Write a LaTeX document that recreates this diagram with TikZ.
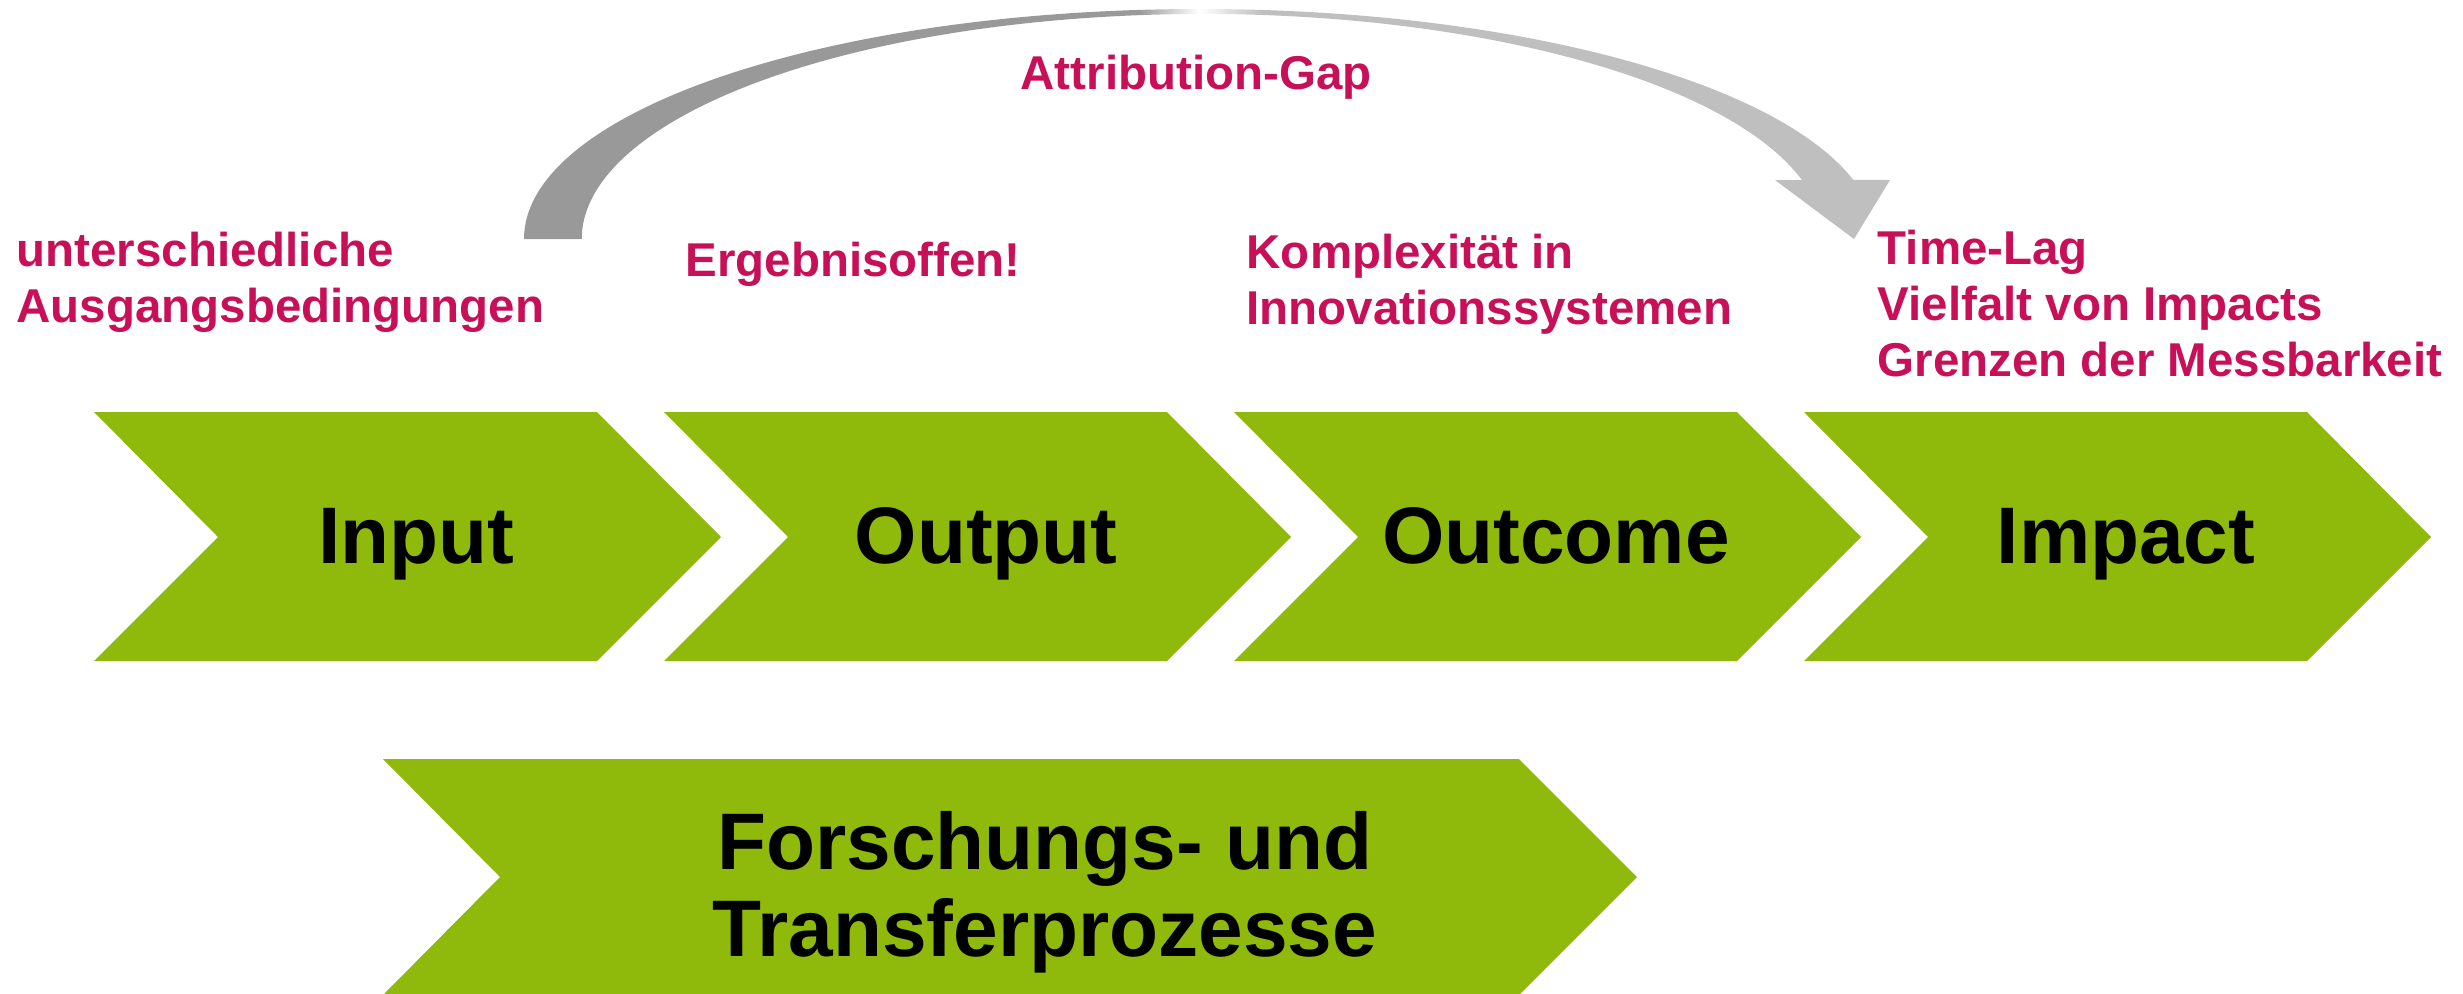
\documentclass[tikz,border=0pt]{standalone}
\usepackage{fontspec}
\setmainfont{Liberation Sans}
\usetikzlibrary{positioning}
\definecolor{chevgreen}{RGB}{143,186,12}
\definecolor{lblpink}{RGB}{200,16,88}
\definecolor{gapdark}{gray}{0.6}
\definecolor{gaplight}{gray}{0.75}
\pgfdeclarehorizontalshading{gapshade}{100bp}{color(0bp)=(gapdark); color(47.5bp)=(gapdark); color(49.7bp)=(white); color(52bp)=(gaplight); color(100bp)=(gaplight)}

\begin{document}
\begin{tikzpicture}[x=0.01cm, y=-0.01cm,
  chev/.style={fill=chevgreen},
  stage/.style={font=\fontsize{22.8}{24.75}\selectfont\bfseries, anchor=base, inner sep=0pt},
  lbl/.style={text=lblpink, font=\fontsize{13.5}{16}\selectfont\bfseries, align=left, anchor=north west, inner sep=0pt}]
\useasboundingbox (0,0) rectangle (2463,993);

% Attribution-Gap arrow
\coordinate (gapstart) at (553,239);
\coordinate (gaptip) at (1854,239);
\shade[shading=gapshade] (524,239) arc[start angle=180, end angle=345.1, x radius=676, y radius=230]
  -- (1890,180) -- (gaptip) -- (1775,180) -- (1802,180)
  arc[start angle=344.8, end angle=180, x radius=621, y radius=225] -- cycle;

% stages
\foreach \x/\nm/\txt in {94/inp/Input, 664/outp/Output, 1234/outc/Outcome, 1804/imp/Impact}{
  \fill[chev] (\x,412) -- ++(503,0) -- ++(124,125) -- ++(-124,124) -- ++(-503,0) -- ++(124,-124) -- cycle;
  \node[stage] (\nm) at (\x+322,563) {\txt};
}
\fill[chev] (383,759) -- (1519,759) -- (1637,877) -- (1519,995) -- (383,995) -- (500,877) -- cycle;
\node[stage, anchor=north, align=center] (proz) at (1045,811) {Forschungs- und\\Transferprozesse};

% labels
\node[lbl] (ausg) at (16,231) {unterschiedliche\\Ausgangsbedingungen};
\node[lbl] (offen) at (685,241) {Ergebnisoffen!};
\node[lbl] (kompl) at (1246,233) {Komplexität in\\Innovationssystemen};
\node[lbl] (lag) at (1877,229) {Time-Lag\\Vielfalt von Impacts\\Grenzen der Messbarkeit};
\node[lbl, anchor=base] (gap) at (1196,89) {Attribution-Gap};
\end{tikzpicture}
\end{document}
